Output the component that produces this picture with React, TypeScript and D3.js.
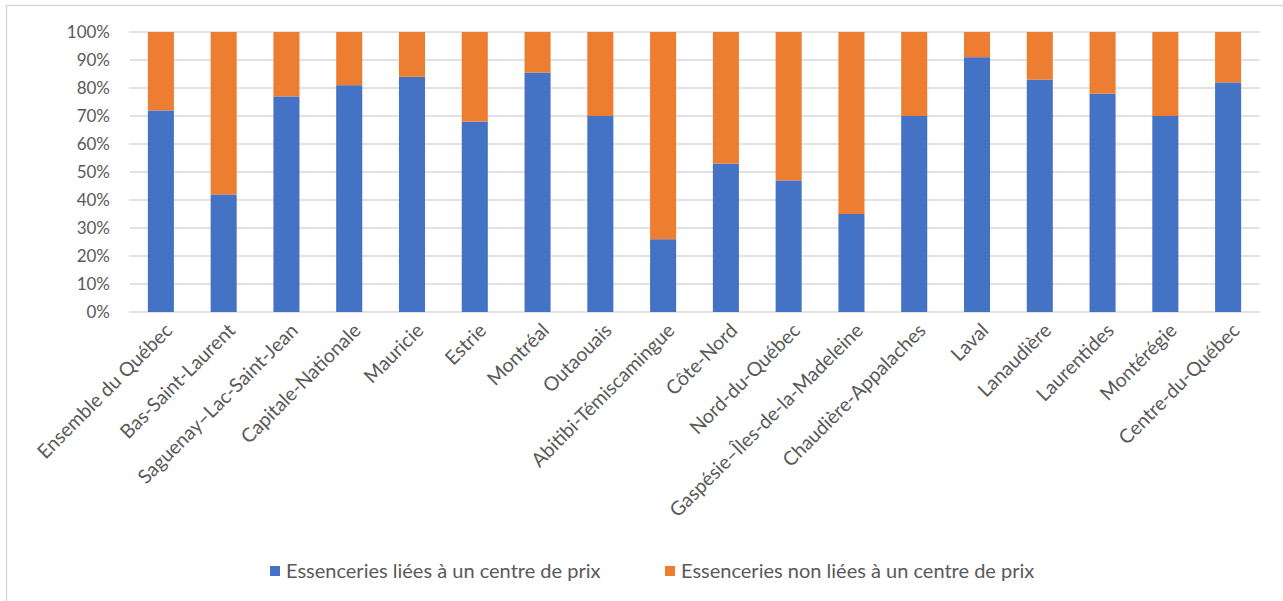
import React from "react";
import * as d3 from "d3";

const categories = [
  "Ensemble du Québec",
  "Bas-Saint-Laurent",
  "Saguenay–Lac-Saint-Jean",
  "Capitale-Nationale",
  "Mauricie",
  "Estrie",
  "Montréal",
  "Outaouais",
  "Abitibi-Témiscamingue",
  "Côte-Nord",
  "Nord-du-Québec",
  "Gaspésie–Îles-de-la-Madeleine",
  "Chaudière-Appalaches",
  "Laval",
  "Lanaudière",
  "Laurentides",
  "Montérégie",
  "Centre-du-Québec",
];

const liees = [72, 42, 77, 81, 84, 68, 85.5, 70, 26, 53, 47, 35, 70, 91, 83, 78, 70, 82];
const nonLiees = liees.map((v) => 100 - v);

const seriesNames = [
  "Essenceries liées à un centre de prix",
  "Essenceries non liées à un centre de prix",
];
const seriesColors = ["#4472C4", "#ED7D31"];
const yTicks = [0, 10, 20, 30, 40, 50, 60, 70, 80, 90, 100];

const W = 1283;
const H = 601;
const FONT = "Lato, 'Open Sans', sans-serif";

export default function App() {
  const x = d3
    .scaleBand<string>()
    .domain(categories)
    .range([129.5, 1259.5])
    .paddingInner(0.585)
    .paddingOuter(0.2925);
  const y = d3.scaleLinear().domain([0, 100]).range([312, 32]);

  const rows = categories.map((c, i) => ({ c, a: liees[i], b: nonLiees[i] }));
  const stack = d3.stack<any>().keys(["a", "b"])(rows);

  return (
    <svg width={W} height={H} style={{ position: "absolute", left: 0, top: 0 }}>
      <rect x={0} y={0} width={W} height={H} fill="#fff" />
      <rect x={6.5} y={5.5} width={1290} height={H + 10} fill="none" stroke="#D9D9D9" strokeWidth={1.5} />
      {yTicks.map((t) => (
        <g key={t}>
          <line x1={129.5} x2={1259.5} y1={y(t)} y2={y(t)} stroke="#D9D9D9" strokeWidth={1.3} />
          <text
            x={110}
            y={y(t)}
            dy="0.35em"
            textAnchor="end"
            fontFamily={FONT}
            fontSize={17}
            fill="#595959"
          >
            {t}%
          </text>
        </g>
      ))}
      {stack.map((s, si) =>
        s.map((d, i) => (
          <rect
            key={si + "-" + i}
            x={x(categories[i])}
            width={x.bandwidth()}
            y={y(d[1])}
            height={y(d[0]) - y(d[1])}
            fill={seriesColors[si]}
          />
        ))
      )}
      {categories.map((c) => {
        const cx = (x(c) as number) + x.bandwidth() / 2 + 2;
        const cy = 321;
        return (
          <text
            key={c}
            transform={`translate(${cx},${cy}) rotate(-45)`}
            textAnchor="end"
            dy="0.78em"
            fontFamily={FONT}
            fontSize={19.5}
            fill="#595959"
          >
            {c}
          </text>
        );
      })}
      {seriesNames.map((n, i) => {
        const lx = i === 0 ? 270 : 665;
        return (
          <g key={n}>
            <rect x={lx} y={566} width={10} height={10} fill={seriesColors[i]} />
            <text x={lx + 16} y={571} dy="0.35em" fontFamily={FONT} fontSize={20} fill="#595959">
              {n}
            </text>
          </g>
        );
      })}
    </svg>
  );
}
